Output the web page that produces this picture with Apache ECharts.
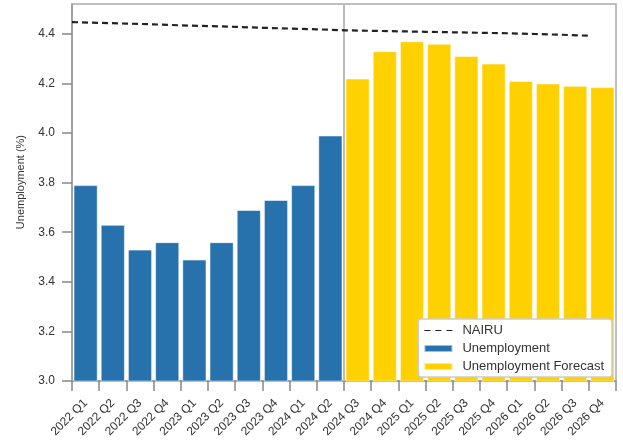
<!DOCTYPE html>
<html>
<head>
<meta charset="utf-8">
<script src="https://cdn.jsdelivr.net/npm/echarts@6/dist/echarts.min.js"></script>
<style>html,body{margin:0;padding:0;background:#fff;}#c{width:623px;height:440px;}</style>
</head>
<body>
<div id="c"></div>
<script>
const categories = ["2022 Q1","2022 Q2","2022 Q3","2022 Q4","2023 Q1","2023 Q2","2023 Q3","2023 Q4","2024 Q1","2024 Q2",
  "2024 Q3","2024 Q4","2025 Q1","2025 Q2","2025 Q3","2025 Q4","2026 Q1","2026 Q2","2026 Q3","2026 Q4"];
const unemployment = [3.79,3.63,3.53,3.56,3.49,3.56,3.69,3.73,3.79,3.99,null,null,null,null,null,null,null,null,null,null];
const forecast = [null,null,null,null,null,null,null,null,null,null,4.22,4.33,4.37,4.36,4.31,4.28,4.21,4.20,4.19,4.185];
const nairu = [4.447,4.444,4.441,4.438,4.434,4.431,4.428,4.424,4.421,4.418,4.414,4.412,4.410,4.408,4.406,4.404,4.402,4.399,4.396,4.392];
const yTicks = [3.0,3.2,3.4,3.6,3.8,4.0,4.2,4.4];
const forecastStart = 10;
const yTitle = 'Unemployment (%)';

const font = "Liberation Sans";
const chart = echarts.init(document.getElementById('c'));
chart.setOption({
  animation: false,
  textStyle: {fontFamily: font},
  grid: {left: 72, right: 7, top: 4, bottom: 57, show: true, borderColor: '#aaa', borderWidth: 1.5, containLabel: false},
  graphic: [{
    type: 'text', left: 15, top: 135, rotation: Math.PI / 2,
    style: {text: yTitle, fontSize: 11, fill: '#333', fontFamily: font}
  }],
  legend: {
    orient: 'vertical', right: 11, bottom: 63,
    backgroundColor: '#fff', borderColor: '#ccc', borderWidth: 1.5, borderRadius: 3,
    padding: [5, 8, 4, 5], itemGap: 5, itemWidth: 28, itemHeight: 7,
    textStyle: {fontFamily: font, fontSize: 13, color: '#333', padding: [0, 0, 0, 5]},
    data: [
      {name: 'NAIRU', icon: 'path://M0,0 L6,0 L6,1 L0,1 Z M11,0 L17,0 L17,1 L11,1 Z M22,0 L28,0 L28,1 L22,1 Z', itemStyle: {color: '#222'}},
      {name: 'Unemployment', icon: 'rect'},
      {name: 'Unemployment Forecast', icon: 'rect'}
    ]
  },
  xAxis: [
    {
      type: 'category', data: categories, boundaryGap: true,
      axisLine: {lineStyle: {color: '#999', width: 1.5}},
      axisTick: {show: true, length: 10, lineStyle: {color: '#888', width: 1.5}},
      axisLabel: {rotate: 45, fontSize: 12, color: '#333', margin: 20, interval: 0, fontFamily: font}
    },
    {
      type: 'value', min: 0, max: categories.length, show: false
    }
  ],
  yAxis: {
    type: 'value', min: 3.0, max: 4.52, interval: 0.2,
    axisLine: {show: true, lineStyle: {color: '#999', width: 1.5}},
    axisTick: {show: true, length: 10, lineStyle: {color: '#888', width: 1.5}, customValues: yTicks},
    axisLabel: {fontSize: 12, color: '#333', margin: 17, customValues: yTicks, formatter: v => v.toFixed(1), fontFamily: font},
    splitLine: {show: false}
  },
  series: [
    {
      name: 'Unemployment', type: 'bar', stack: 'u', data: unemployment, barCategoryGap: '11%',
      itemStyle: {color: '#2771ad', borderColor: 'rgba(255,255,255,0.55)', borderWidth: 1}
    },
    {
      name: 'Unemployment Forecast', type: 'bar', stack: 'u', data: forecast, barCategoryGap: '11%',
      itemStyle: {color: '#ffd100', borderColor: 'rgba(255,255,255,0.55)', borderWidth: 1}
    },
    {
      name: 'NAIRU', type: 'line', xAxisIndex: 1, data: nairu.map((v, i) => [i, v]),
      symbol: 'none', lineStyle: {color: '#222', width: 2.2, type: [6, 4]}, itemStyle: {color: '#222'},
      z: 5,
      markLine: {
        silent: true, symbol: 'none', label: {show: false},
        lineStyle: {color: '#bbb', width: 2, type: 'solid'},
        data: [{xAxis: forecastStart}]
      }
    }
  ]
});
</script>
</body>
</html>
